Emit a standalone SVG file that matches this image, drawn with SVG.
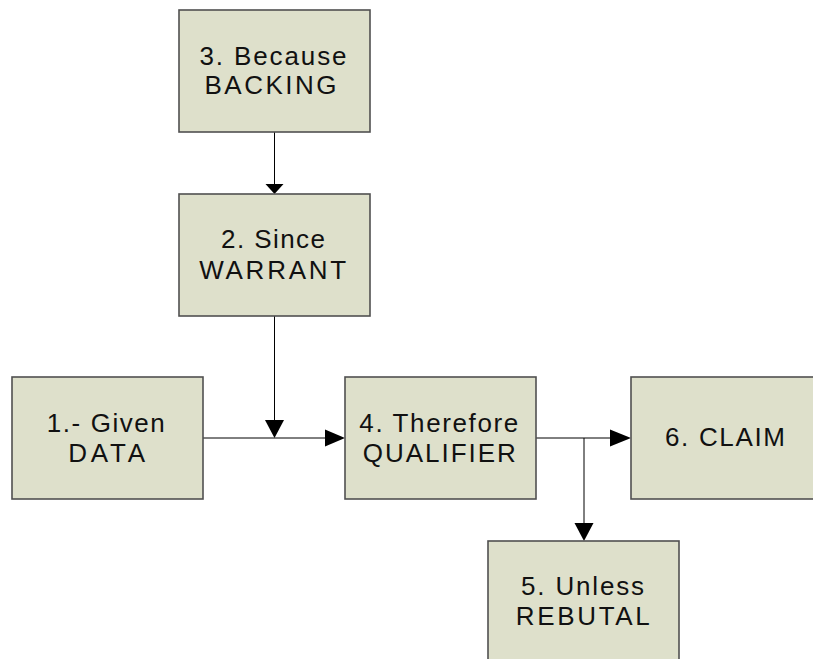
<svg xmlns="http://www.w3.org/2000/svg" width="813" height="659" viewBox="0 0 813 659">
<style>
.box{fill:#dee0cb;stroke:#505050;stroke-width:1.6}
.t{font-family:"Liberation Sans",Arial,sans-serif;font-size:26px;fill:#111;text-anchor:middle}
.ln{stroke:#000;stroke-width:1;fill:none}
.ah{fill:#000}
</style>
<rect width="813" height="659" fill="#fff"/>
<g id="connectors">
<line class="ln" x1="274.5" y1="132" x2="274.5" y2="184"/>
<polygon class="ah" points="265.5,184 283.5,184 274.5,194"/>
<line class="ln" x1="274.5" y1="316" x2="274.5" y2="420"/>
<polygon class="ah" points="265,420 284,420 274.5,438"/>
<line class="ln" x1="203" y1="438" x2="326" y2="438"/>
<polygon class="ah" points="325,429.5 345,438 325,446.5"/>
<line class="ln" x1="536" y1="438" x2="611" y2="438"/>
<polygon class="ah" points="610,429.5 631,438 610,446.5"/>
<line class="ln" x1="584" y1="438" x2="584" y2="524"/>
<polygon class="ah" points="574.5,523 593.5,523 584,541"/>
</g>
<g id="n3">
<rect class="box" x="179" y="10" width="191" height="122"/>
<text class="t" x="273" y="65" textLength="147" lengthAdjust="spacing">3. Because</text>
<text class="t" x="270.5" y="94" textLength="132" lengthAdjust="spacing">BACKING</text>
</g>
<g id="n2">
<rect class="box" x="179" y="194" width="191" height="122"/>
<text class="t" x="273" y="248" textLength="104" lengthAdjust="spacing">2. Since</text>
<text class="t" x="272.7" y="278.5" textLength="147" lengthAdjust="spacing">WARRANT</text>
</g>
<g id="n1">
<rect class="box" x="12" y="377" width="191" height="122"/>
<text class="t" x="105.8" y="431.7" textLength="118" lengthAdjust="spacing">1.- Given</text>
<text class="t" x="106.7" y="461.7" textLength="77" lengthAdjust="spacing">DATA</text>
</g>
<g id="n4">
<rect class="box" x="345" y="377" width="191" height="122"/>
<text class="t" x="438.8" y="431.7" textLength="159" lengthAdjust="spacing">4. Therefore</text>
<text class="t" x="439.3" y="461.7" textLength="153" lengthAdjust="spacing">QUALIFIER</text>
</g>
<g id="n6">
<rect class="box" x="631" y="377" width="191" height="122"/>
<text class="t" x="725" y="446" textLength="120" lengthAdjust="spacing">6. CLAIM</text>
</g>
<g id="n5">
<rect class="box" x="488" y="541" width="191" height="122"/>
<text class="t" x="582.5" y="594.5" textLength="123" lengthAdjust="spacing">5. Unless</text>
<text class="t" x="582.8" y="625" textLength="134" lengthAdjust="spacing">REBUTAL</text>
</g>
</svg>
